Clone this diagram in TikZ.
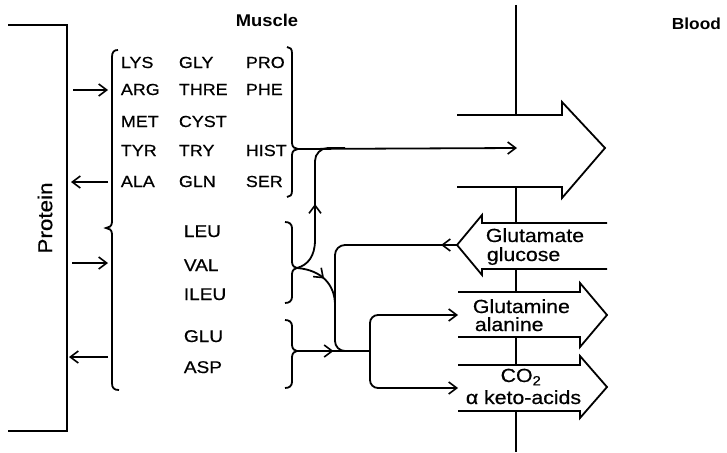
\documentclass[tikz,border=0pt]{standalone}
\usepackage{fontspec}
\setmainfont{Liberation Sans}
\newfontfamily\wf{Liberation Sans}[FakeStretch=1.12,FakeBold=0.6]
\newfontfamily\wfb{Liberation Sans Bold}[FakeStretch=1.08]
\usetikzlibrary{arrows.meta,decorations.markings}
\begin{document}
\begin{tikzpicture}[x=1pt,y=-1pt,
  line width=1.8pt, line join=miter,
  tipstyle/.style={-{Straight Barb[length=8pt,width=12pt,line width=1.6pt]}},
  midarr/.style={postaction={decorate},decoration={markings,
     mark=at position #1 with {\arrow{Straight Barb[length=8pt,width=12pt,line width=1.6pt]}}}},
  aa/.style={anchor=base west,inner sep=0pt,font=\wf\fontsize{16}{18}\selectfont},
  ab/.style={anchor=base west,inner sep=0pt,font=\wf\fontsize{17}{19}\selectfont},
  lab/.style={anchor=base west,inner sep=0pt,font=\wf\fontsize{19}{20}\selectfont},
  head/.style={anchor=base west,inner sep=0pt,font=\wfb\fontsize{17}{19}\selectfont}]
\useasboundingbox (0,0) rectangle (727,452);

% headings
\node[head] (muscle) at (235,27) {Muscle};
\node[head,font=\wfb\fontsize{16}{18}\selectfont] (blood) at (671,30) {Blood};

% protein bracket
\coordinate (pt1) at (8,25);
\coordinate (pt2) at (67,25);
\coordinate (pb2) at (67,431);
\coordinate (pb1) at (8,431);
\draw (pt1) -- (pt2) -- (pb2) -- (pb1);
\node[rotate=90,inner sep=0pt,font=\wf\fontsize{20}{22}\selectfont] (protein) at (45,218) {Protein};

% amino acids, first group
\node[aa] (lys) at (120,68) {LYS};
\node[aa] (gly) at (178,68) {GLY};
\node[aa] (pro) at (245,68) {PRO};
\node[aa] (arg) at (120,95) {ARG};
\node[aa] (thre) at (178,95) {THRE};
\node[aa] (phe) at (245,95) {PHE};
\node[aa] (met) at (120,127) {MET};
\node[aa] (cyst) at (178,127) {CYST};
\node[aa] (tyr) at (120,156) {TYR};
\node[aa] (try) at (178,156) {TRY};
\node[aa] (hist) at (245,156) {HIST};
\node[aa] (ala) at (120,187) {ALA};
\node[aa] (gln) at (178,187) {GLN};
\node[aa] (ser) at (245,187) {SER};

% second and third groups
\node[ab] (leu) at (183,237) {LEU};
\node[ab] (val) at (183,271) {VAL};
\node[ab] (ileu) at (183,300) {ILEU};
\node[ab] (glu) at (183,342) {GLU};
\node[ab] (asp) at (183,373) {ASP};

% big left brace
\draw (118,50) .. controls (114,50) and (112,52) .. (112,57) -- (112,222)
      .. controls (112,226) and (109,228) .. (106,228)
      .. controls (109,228) and (112,230) .. (112,234) -- (112,383)
      .. controls (112,388) and (114,390) .. (119,390);

% right braces
\coordinate (c1) at (298,149);
\coordinate (c2) at (297,268);
\coordinate (c3) at (297,351);
\draw (287,47) .. controls (290,47) and (292,49) .. (292,53) -- (292,143)
      .. controls (292,147) and (295,149) .. (c1)
      .. controls (295,149) and (292,151) .. (292,155) -- (292,191)
      .. controls (292,195) and (290,197) .. (287,197);
\draw (285,222) .. controls (289,222) and (292,224) .. (292,228) -- (292,262)
      .. controls (292,266) and (295,268) .. (c2)
      .. controls (295,268) and (292,270) .. (292,274) -- (292,297)
      .. controls (292,301) and (289,303) .. (285,303);
\draw (285,320) .. controls (289,320) and (292,322) .. (292,326) -- (292,345)
      .. controls (292,349) and (295,351) .. (c3)
      .. controls (295,351) and (292,353) .. (292,357) -- (292,382)
      .. controls (292,386) and (289,388) .. (285,388);

% protein arrows
\draw[tipstyle] (73,90) -- (108,90);
\draw[tipstyle] (108,182) -- (71,182);
\draw[tipstyle] (72,263) -- (108,263);
\draw[tipstyle] (108,357) -- (69,357);

% membrane
\draw (516,5) -- (516,115);
\draw (516,187) -- (516,223);
\draw (516,269) -- (516,292);
\draw (516,337) -- (516,365);
\draw (516,411) -- (516,452);

% big arrows
\draw (457,115) -- (562,115) -- (562,102) -- (605,148) -- (562,198) -- (562,187) -- (457,187);
\coordinate (gtip) at (457,245);
\draw (607,223) -- (482,223) -- (482,215) -- (gtip) -- (482,275) -- (482,269) -- (607,269);
\coordinate (gntip) at (458,315);
\draw (458,292) -- (580,292) -- (580,283) -- (607,315) -- (580,347) -- (580,337) -- (458,337);
\coordinate (cotip) at (458,388);
\draw (458,365) -- (580,365) -- (580,356) -- (607,387) -- (580,418) -- (580,411) -- (458,411);

% labels
\node[lab] (glutamate) at (485,242) {Glutamate};
\node[lab] (glucose) at (486,261) {glucose};
\node[lab] (glutamine) at (472,313) {Glutamine};
\node[lab] (alanine) at (474,331) {alanine};
\node[lab,anchor=base] (co2) at (521,382) {CO\textsubscript{2}};
\node[lab] (keto) at (465,404) {α keto-acids};

% flows
\coordinate (out1) at (517,148);
\draw[tipstyle] (c1) -- (out1);
\coordinate (up1) at (315,204);
\draw[tipstyle] (c2) .. controls (308,265) and (315,256) .. (315,240) -- (up1);
\draw[rounded corners=13pt] (315,206) |- (345,148);
\draw[midarr=0.5] (c2) .. controls (322,270) and (335,285) .. (335,305);
\coordinate (ga) at (441,245);
\draw[tipstyle] (gtip) -- (ga);
\coordinate (j1) at (335,351);
\coordinate (j2) at (370,351);
\draw[rounded corners=10pt] (442,245) -| (j1) -- (j2);
\draw[midarr=0.5] (c3) -- (j2);
\draw[tipstyle,rounded corners=8pt] (j2) |- (gntip);
\draw[tipstyle,rounded corners=8pt] (j2) |- (cotip);
\end{tikzpicture}
\end{document}
